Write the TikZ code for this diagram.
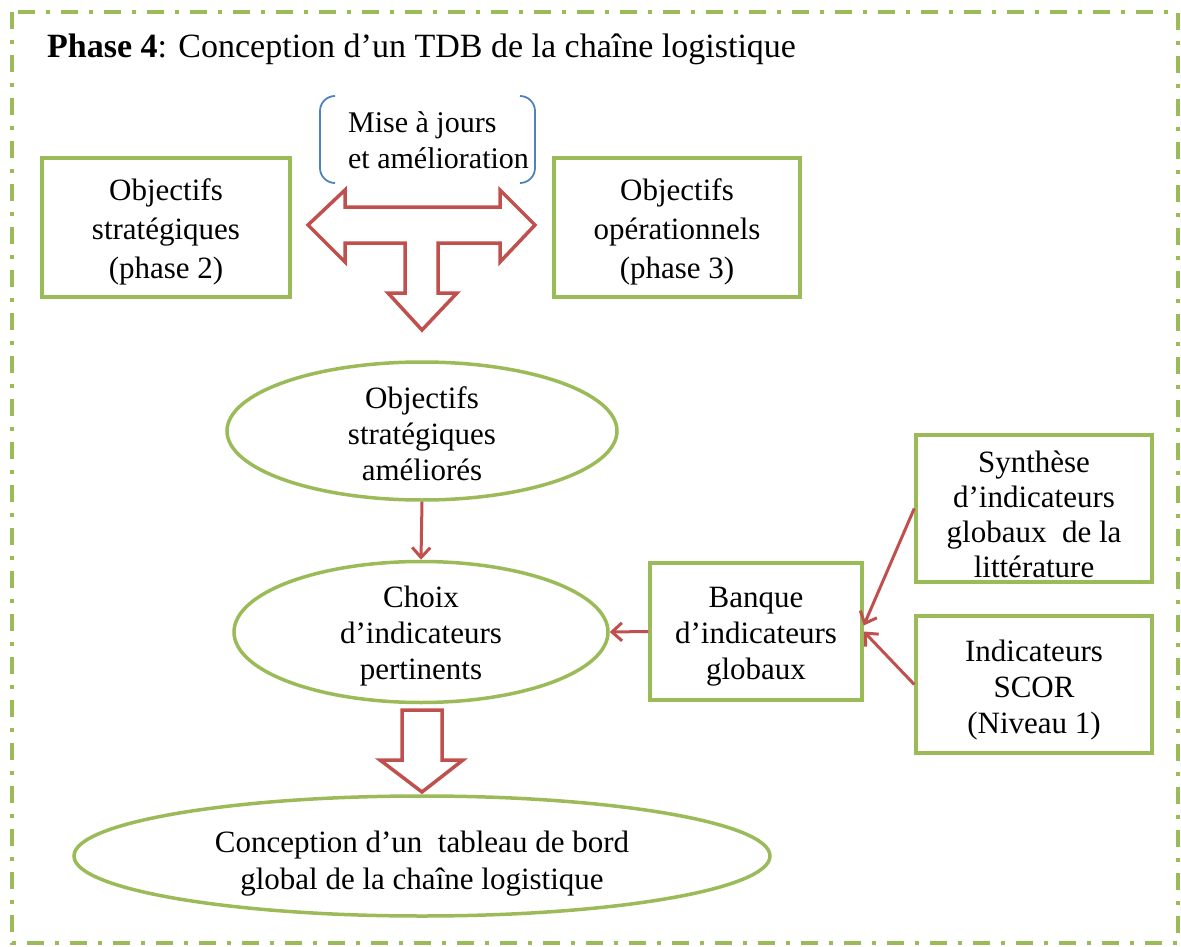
\documentclass[tikz,border=0pt]{standalone}
\usepackage{fontspec}
\setmainfont{Liberation Serif}
\usetikzlibrary{shapes.geometric,arrows.meta}
\definecolor{leaf}{HTML}{9BBB59}
\definecolor{brick}{HTML}{C0504D}
\definecolor{steel}{HTML}{4F81BD}
\begin{document}
\begin{tikzpicture}[x=1pt,y=-1pt,
  body/.style={font=\fontsize{31}{36}\selectfont, align=center, inner sep=0pt},
  greenbox/.style={draw=leaf, line width=3.5pt, inner sep=0pt},
  oval/.style={ellipse, draw=leaf, line width=3.5pt, inner sep=0pt},
  link/.style={draw=brick, line width=3pt, -{Straight Barb[length=10pt,width=18pt]}},
  blockarrow/.style={draw=brick, line width=3.5pt, fill=white, line join=miter},
  bracket/.style={draw=steel, line width=1.8pt, rounded corners=15pt}]
\useasboundingbox (0,0) rectangle (1181,947);
% frame of the phase
\draw[leaf, line width=3.5pt, dash pattern=on 17pt off 11pt on 4pt off 11pt]
  (12,12) rectangle (1178,943);
% heading
\node[anchor=base west, inner sep=0pt, font=\fontsize{34}{40}\selectfont] (title) at (47,58)
  {\textbf{Phase 4}: Conception d’un TDB de la chaîne logistique};
% update label between double brackets
\node[font=\fontsize{30}{36}\selectfont, align=left, inner sep=0pt] (maj) at (438.5,140)
  {Mise à jours\\et amélioration};
\coordinate (majtl) at (320,96);
\coordinate (majbr) at (535,183);
\draw[bracket] ([xshift=15pt]majtl) -- (majtl) -- (majtl |- majbr) -- ([xshift=15pt]majtl |- majbr);
\draw[bracket] ([xshift=-15pt]majbr |- majtl) -- (majbr |- majtl) -- (majbr) -- ([xshift=-15pt]majbr);
% objectives boxes
\node[greenbox, minimum width=248pt, minimum height=139pt] (strat) at (166,227.5) {};
\node[body, font=\fontsize{31}{39}\selectfont] (strattxt) at ([yshift=-4.5pt]strat.center)
  {Objectifs\\stratégiques\\(phase 2)};
\node[greenbox, minimum width=246pt, minimum height=139pt] (oper) at (677,227.5) {};
\node[body, font=\fontsize{31}{39}\selectfont] (opertxt) at ([yshift=-4.5pt]oper.center)
  {Objectifs\\opérationnels\\(phase 3)};
% T-shaped block arrow
\draw[blockarrow] (308,225) -- (345,190) -- (345,207) -- (500,207) -- (500,190) -- (535,225)
  -- (500,262) -- (500,243) -- (438,243) -- (438,293) -- (457,293) -- (422,330)
  -- (388,293) -- (405,293) -- (405,243) -- (345,243) -- (345,262) -- cycle;
% ellipses
\node[oval, minimum width=390pt, minimum height=138pt] (amel) at (422,431) {};
\node[body] (ameltxt) at ([yshift=-3pt]amel.center) {Objectifs\\stratégiques\\améliorés};
\node[oval, minimum width=374pt, minimum height=141pt] (choix) at (421,632) {};
\node[body] (choixtxt) at ([yshift=-4pt]choix.center) {Choix\\d’indicateurs\\pertinents};
\node[oval, minimum width=696pt, minimum height=120pt] (tdb) at (422,856) {};
\node[body, font=\fontsize{31}{37}\selectfont] (tdbtxt) at ([yshift=-8pt]tdb.center)
  {Conception d’un\ \ tableau de bord\\global de la chaîne logistique};
% indicator sources
\node[greenbox, minimum width=212pt, minimum height=137pt] (banque) at (756,631.5) {};
\node[body] (banquetxt) at ([yshift=-5pt]banque.center) {Banque\\d’indicateurs\\globaux};
\node[greenbox, minimum width=236pt, minimum height=147pt] (synth) at (1034,508.5) {};
\node[body, font=\fontsize{31}{35}\selectfont] (synthtxt) at ([yshift=-6pt]synth.center)
  {Synthèse\\d’indicateurs\\globaux\ \ de la\\littérature};
\node[greenbox, minimum width=236pt, minimum height=137pt] (scor) at (1034,684.5) {};
\node[body] (scortxt) at ([yshift=-6pt]scor.center) {Indicateurs\\SCOR\\(Niveau 1)};
% connectors
\draw[link] (amel.south) -- (choix.north);
\draw[link] (banque.west) -- (choix.east);
\draw[link] (synth.west) -- ([yshift=6pt]banque.east);
\draw[link] (scor.west) -- (banque.east);
% block arrow towards the dashboard
\draw[blockarrow] (402,710) -- (442,710) -- (442,760) -- (463,760) -- (422,792)
  -- (380,760) -- (402,760) -- cycle;
\end{tikzpicture}
\end{document}
